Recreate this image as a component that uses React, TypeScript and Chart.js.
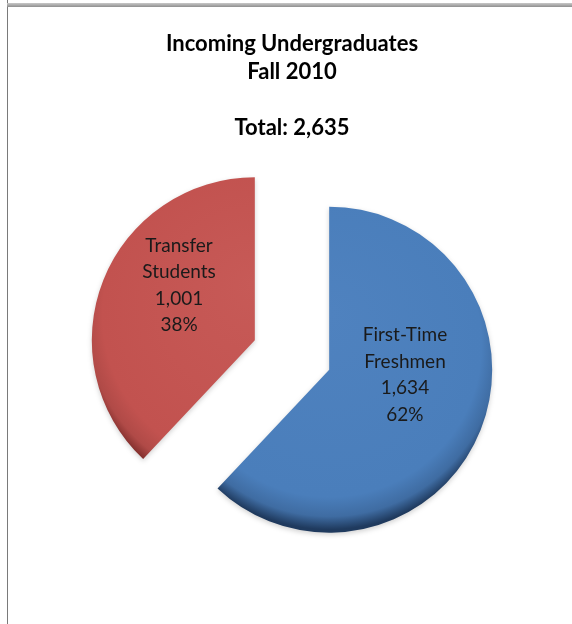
import React, { useEffect, useRef } from "react";
import { Chart, registerables } from "chart.js";

Chart.register(...registerables);

const categories = ["First-Time Freshmen", "Transfer Students"];
const labelLines = [["First-Time", "Freshmen"], ["Transfer", "Students"]];
const values = [1634, 1001];
const titleLines = ["Incoming Undergraduates", "Fall 2010", "", "Total: 2,635"];

const baseColors = [
  { light: "#4F82BF", base: "#4A7EBB", mid: "#3F6CA2", dark: "#1F3A5E" },
  { light: "#C75A57", base: "#C2524F", mid: "#B04A47", dark: "#7A2A28" },
];

const EXPLODE = 40;
const RADIUS = 163;
const FONT = "Lato, 'Open Sans', sans-serif";

const fmt = (n: number) => n.toLocaleString("en-US");

const explodePlugin = {
  id: "explodeDraw",
  beforeDatasetDraw(chart: any, args: any) {
    const meta = chart.getDatasetMeta(args.index);
    const ctx = chart.ctx;
    meta.data.forEach((arc: any) => {
      const mid = (arc.startAngle + arc.endAngle) / 2;
      ctx.save();
      ctx.translate(Math.cos(mid) * EXPLODE, Math.sin(mid) * EXPLODE);
      ctx.shadowColor = "rgba(0,0,0,0.18)";
      ctx.shadowBlur = 5;
      ctx.shadowOffsetY = 2;
      arc.draw(ctx, chart.chartArea);
      ctx.restore();
    });
    return false;
  },
  afterDatasetsDraw(chart: any) {
    const meta = chart.getDatasetMeta(0);
    const ctx = chart.ctx;
    const total = values.reduce((a, b) => a + b, 0);
    ctx.save();
    ctx.fillStyle = "#1a1a1a";
    ctx.font = `19px ${FONT}`;
    ctx.textAlign = "center";
    ctx.textBaseline = "middle";
    meta.data.forEach((arc: any, i: number) => {
      const mid = (arc.startAngle + arc.endAngle) / 2;
      const dist = EXPLODE + arc.outerRadius / 2;
      const cx = arc.x + Math.cos(mid) * dist;
      const cy = arc.y + Math.sin(mid) * dist - 25;
      const lines = [
        ...labelLines[i],
        fmt(values[i]),
        Math.round((values[i] / total) * 100) + "%",
      ];
      const lh = 26.5;
      lines.forEach((t, k) => {
        ctx.fillText(t, cx, cy + (k - (lines.length - 1) / 2) * lh);
      });
    });
    ctx.restore();
  },
};

export default function App() {
  const ref = useRef<HTMLCanvasElement | null>(null);
  useEffect(() => {
    if (!ref.current) return;
    const chart = new Chart(ref.current, {
      type: "pie",
      data: {
        labels: categories,
        datasets: [
          {
            data: values,
            borderWidth: 0,
            backgroundColor: (c: any) => {
              const col = baseColors[c.dataIndex % baseColors.length];
              const area = c.chart.chartArea;
              if (!area) return col.base;
              const cx = (area.left + area.right) / 2;
              const cy = (area.top + area.bottom) / 2;
              const g = c.chart.ctx.createRadialGradient(
                cx, cy - RADIUS * 0.35, 0, cx, cy - RADIUS * 0.12, RADIUS * 1.1
              );
              g.addColorStop(0, col.light);
              g.addColorStop(0.85, col.base);
              g.addColorStop(0.94, col.mid);
              g.addColorStop(1, col.dark);
              return g;
            },
          },
        ],
      },
      options: {
        responsive: false,
        animation: false,
        radius: RADIUS,
        layout: { padding: { top: 10, left: 20, right: 8, bottom: 66 } },
        plugins: {
          legend: { display: false },
          tooltip: { enabled: false },
          title: {
            display: true,
            text: titleLines,
            color: "#000",
            font: { family: FONT, size: 22, weight: "bold", lineHeight: 28 / 22 },
            padding: { top: 20, bottom: 10 },
          },
        },
      } as any,
      plugins: [explodePlugin],
    });
    return () => chart.destroy();
  }, []);

  return (
    <div style={{ position: "absolute", left: 0, top: 0, width: 572, height: 624, background: "#fff" }}>
      <canvas ref={ref} width={572} height={624} style={{ position: "absolute", left: 0, top: 0 }} />
      <div style={{ position: "absolute", left: 7, top: 0, width: 1, height: 624, background: "#7a7a7a" }} />
      <div
        style={{
          position: "absolute",
          left: 7,
          top: 3,
          width: 565,
          height: 4,
          background: "linear-gradient(#c8c8c8, #8f8f8f)",
        }}
      />
    </div>
  );
}
